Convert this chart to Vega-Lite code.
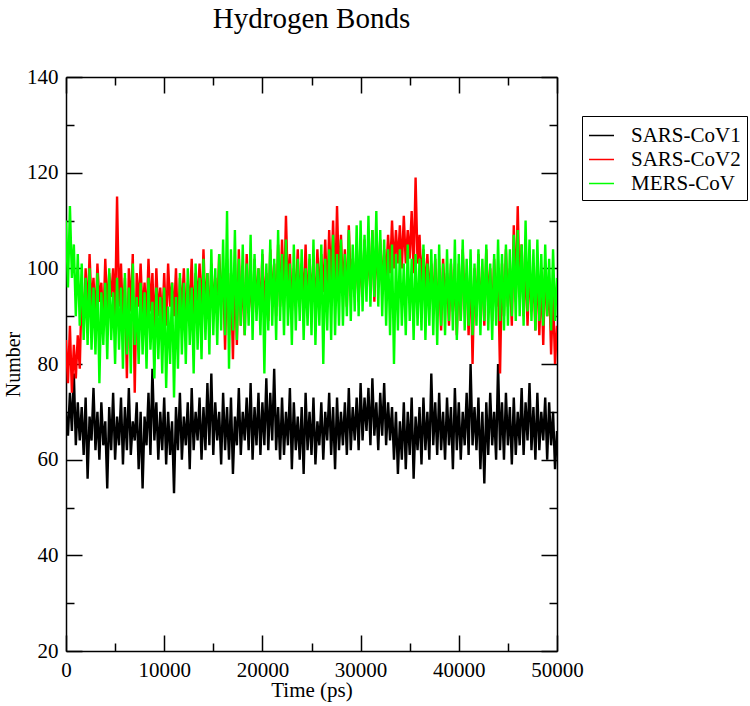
{
"$schema": "https://vega.github.io/schema/vega-lite/v6.json",
"width": 491, "height": 574,
"autosize": {"type": "none"},
"padding": {"left": 66, "top": 77, "right": 193, "bottom": 55},
"background": "white",
"title": {"text": "Hydrogen Bonds", "font": "Liberation Serif", "fontSize": 29, "fontWeight": "normal", "color": "black", "anchor": "middle", "baseline": "alphabetic", "offset": 9},
"data": {"values": [
{"t":0,"SARS-CoV1":70,"SARS-CoV2":85,"MERS-CoV":110},
{"t":200,"SARS-CoV1":65,"SARS-CoV2":76,"MERS-CoV":96},
{"t":400,"SARS-CoV1":74,"SARS-CoV2":88,"MERS-CoV":113},
{"t":600,"SARS-CoV1":66,"SARS-CoV2":74,"MERS-CoV":98},
{"t":800,"SARS-CoV1":78,"SARS-CoV2":84,"MERS-CoV":105},
{"t":1000,"SARS-CoV1":63,"SARS-CoV2":77,"MERS-CoV":90},
{"t":1200,"SARS-CoV1":72,"SARS-CoV2":86,"MERS-CoV":103},
{"t":1400,"SARS-CoV1":64,"SARS-CoV2":79,"MERS-CoV":88},
{"t":1600,"SARS-CoV1":71,"SARS-CoV2":96,"MERS-CoV":101},
{"t":1800,"SARS-CoV1":61,"SARS-CoV2":88,"MERS-CoV":85},
{"t":2000,"SARS-CoV1":73,"SARS-CoV2":100,"MERS-CoV":98},
{"t":2200,"SARS-CoV1":56,"SARS-CoV2":90,"MERS-CoV":84},
{"t":2400,"SARS-CoV1":69,"SARS-CoV2":103,"MERS-CoV":100},
{"t":2600,"SARS-CoV1":64,"SARS-CoV2":92,"MERS-CoV":83},
{"t":2800,"SARS-CoV1":75,"SARS-CoV2":98,"MERS-CoV":96},
{"t":3000,"SARS-CoV1":62,"SARS-CoV2":89,"MERS-CoV":82},
{"t":3200,"SARS-CoV1":70,"SARS-CoV2":101,"MERS-CoV":99},
{"t":3400,"SARS-CoV1":60,"SARS-CoV2":93,"MERS-CoV":76},
{"t":3600,"SARS-CoV1":72,"SARS-CoV2":97,"MERS-CoV":95},
{"t":3800,"SARS-CoV1":63,"SARS-CoV2":88,"MERS-CoV":84},
{"t":4000,"SARS-CoV1":68,"SARS-CoV2":102,"MERS-CoV":97},
{"t":4200,"SARS-CoV1":54,"SARS-CoV2":91,"MERS-CoV":81},
{"t":4400,"SARS-CoV1":71,"SARS-CoV2":99,"MERS-CoV":100},
{"t":4600,"SARS-CoV1":62,"SARS-CoV2":94,"MERS-CoV":85},
{"t":4800,"SARS-CoV1":74,"SARS-CoV2":100,"MERS-CoV":95},
{"t":5000,"SARS-CoV1":60,"SARS-CoV2":90,"MERS-CoV":80},
{"t":5200,"SARS-CoV1":69,"SARS-CoV2":115,"MERS-CoV":98},
{"t":5400,"SARS-CoV1":63,"SARS-CoV2":92,"MERS-CoV":83},
{"t":5600,"SARS-CoV1":73,"SARS-CoV2":101,"MERS-CoV":96},
{"t":5800,"SARS-CoV1":59,"SARS-CoV2":89,"MERS-CoV":79},
{"t":6000,"SARS-CoV1":71,"SARS-CoV2":98,"MERS-CoV":99},
{"t":6200,"SARS-CoV1":62,"SARS-CoV2":77,"MERS-CoV":82},
{"t":6400,"SARS-CoV1":75,"SARS-CoV2":100,"MERS-CoV":96},
{"t":6600,"SARS-CoV1":61,"SARS-CoV2":91,"MERS-CoV":78},
{"t":6800,"SARS-CoV1":68,"SARS-CoV2":103,"MERS-CoV":101},
{"t":7000,"SARS-CoV1":64,"SARS-CoV2":74,"MERS-CoV":84},
{"t":7200,"SARS-CoV1":72,"SARS-CoV2":99,"MERS-CoV":94},
{"t":7400,"SARS-CoV1":58,"SARS-CoV2":92,"MERS-CoV":80},
{"t":7600,"SARS-CoV1":70,"SARS-CoV2":101,"MERS-CoV":97},
{"t":7800,"SARS-CoV1":54,"SARS-CoV2":90,"MERS-CoV":82},
{"t":8000,"SARS-CoV1":69,"SARS-CoV2":97,"MERS-CoV":95},
{"t":8200,"SARS-CoV1":63,"SARS-CoV2":89,"MERS-CoV":79},
{"t":8400,"SARS-CoV1":74,"SARS-CoV2":102,"MERS-CoV":98},
{"t":8600,"SARS-CoV1":61,"SARS-CoV2":91,"MERS-CoV":83},
{"t":8800,"SARS-CoV1":79,"SARS-CoV2":99,"MERS-CoV":93},
{"t":9000,"SARS-CoV1":64,"SARS-CoV2":86,"MERS-CoV":77},
{"t":9200,"SARS-CoV1":72,"SARS-CoV2":100,"MERS-CoV":96},
{"t":9400,"SARS-CoV1":60,"SARS-CoV2":90,"MERS-CoV":81},
{"t":9600,"SARS-CoV1":70,"SARS-CoV2":96,"MERS-CoV":94},
{"t":9800,"SARS-CoV1":62,"SARS-CoV2":88,"MERS-CoV":78},
{"t":10000,"SARS-CoV1":73,"SARS-CoV2":99,"MERS-CoV":96},
{"t":10200,"SARS-CoV1":59,"SARS-CoV2":88,"MERS-CoV":75},
{"t":10400,"SARS-CoV1":70,"SARS-CoV2":101,"MERS-CoV":92},
{"t":10600,"SARS-CoV1":61,"SARS-CoV2":92,"MERS-CoV":80},
{"t":10800,"SARS-CoV1":68,"SARS-CoV2":97,"MERS-CoV":97},
{"t":11000,"SARS-CoV1":53,"SARS-CoV2":90,"MERS-CoV":73},
{"t":11200,"SARS-CoV1":71,"SARS-CoV2":100,"MERS-CoV":94},
{"t":11400,"SARS-CoV1":62,"SARS-CoV2":87,"MERS-CoV":79},
{"t":11600,"SARS-CoV1":74,"SARS-CoV2":98,"MERS-CoV":99},
{"t":11800,"SARS-CoV1":60,"SARS-CoV2":91,"MERS-CoV":82},
{"t":12000,"SARS-CoV1":69,"SARS-CoV2":100,"MERS-CoV":97},
{"t":12200,"SARS-CoV1":63,"SARS-CoV2":89,"MERS-CoV":80},
{"t":12400,"SARS-CoV1":72,"SARS-CoV2":97,"MERS-CoV":100},
{"t":12600,"SARS-CoV1":58,"SARS-CoV2":92,"MERS-CoV":84},
{"t":12800,"SARS-CoV1":75,"SARS-CoV2":102,"MERS-CoV":96},
{"t":13000,"SARS-CoV1":62,"SARS-CoV2":88,"MERS-CoV":78},
{"t":13200,"SARS-CoV1":70,"SARS-CoV2":99,"MERS-CoV":101},
{"t":13400,"SARS-CoV1":64,"SARS-CoV2":93,"MERS-CoV":83},
{"t":13600,"SARS-CoV1":73,"SARS-CoV2":101,"MERS-CoV":98},
{"t":13800,"SARS-CoV1":60,"SARS-CoV2":90,"MERS-CoV":81},
{"t":14000,"SARS-CoV1":71,"SARS-CoV2":104,"MERS-CoV":102},
{"t":14200,"SARS-CoV1":62,"SARS-CoV2":91,"MERS-CoV":85},
{"t":14400,"SARS-CoV1":76,"SARS-CoV2":99,"MERS-CoV":99},
{"t":14600,"SARS-CoV1":63,"SARS-CoV2":88,"MERS-CoV":82},
{"t":14800,"SARS-CoV1":78,"SARS-CoV2":101,"MERS-CoV":104},
{"t":15000,"SARS-CoV1":61,"SARS-CoV2":92,"MERS-CoV":86},
{"t":15200,"SARS-CoV1":72,"SARS-CoV2":98,"MERS-CoV":100},
{"t":15400,"SARS-CoV1":64,"SARS-CoV2":90,"MERS-CoV":84},
{"t":15600,"SARS-CoV1":70,"SARS-CoV2":103,"MERS-CoV":103},
{"t":15800,"SARS-CoV1":59,"SARS-CoV2":93,"MERS-CoV":87},
{"t":16000,"SARS-CoV1":74,"SARS-CoV2":100,"MERS-CoV":106},
{"t":16200,"SARS-CoV1":62,"SARS-CoV2":83,"MERS-CoV":86},
{"t":16400,"SARS-CoV1":71,"SARS-CoV2":102,"MERS-CoV":112},
{"t":16600,"SARS-CoV1":60,"SARS-CoV2":86,"MERS-CoV":79},
{"t":16800,"SARS-CoV1":73,"SARS-CoV2":99,"MERS-CoV":104},
{"t":17000,"SARS-CoV1":57,"SARS-CoV2":81,"MERS-CoV":87},
{"t":17200,"SARS-CoV1":69,"SARS-CoV2":101,"MERS-CoV":108},
{"t":17400,"SARS-CoV1":63,"SARS-CoV2":84,"MERS-CoV":85},
{"t":17600,"SARS-CoV1":75,"SARS-CoV2":104,"MERS-CoV":102},
{"t":17800,"SARS-CoV1":61,"SARS-CoV2":88,"MERS-CoV":88},
{"t":18000,"SARS-CoV1":70,"SARS-CoV2":100,"MERS-CoV":105},
{"t":18200,"SARS-CoV1":64,"SARS-CoV2":86,"MERS-CoV":86},
{"t":18400,"SARS-CoV1":73,"SARS-CoV2":103,"MERS-CoV":101},
{"t":18600,"SARS-CoV1":62,"SARS-CoV2":91,"MERS-CoV":88},
{"t":18800,"SARS-CoV1":76,"SARS-CoV2":98,"MERS-CoV":107},
{"t":19000,"SARS-CoV1":60,"SARS-CoV2":89,"MERS-CoV":85},
{"t":19200,"SARS-CoV1":71,"SARS-CoV2":102,"MERS-CoV":103},
{"t":19400,"SARS-CoV1":63,"SARS-CoV2":92,"MERS-CoV":89},
{"t":19600,"SARS-CoV1":74,"SARS-CoV2":100,"MERS-CoV":100},
{"t":19800,"SARS-CoV1":61,"SARS-CoV2":90,"MERS-CoV":86},
{"t":20000,"SARS-CoV1":72,"SARS-CoV2":103,"MERS-CoV":104},
{"t":20200,"SARS-CoV1":63,"SARS-CoV2":92,"MERS-CoV":78},
{"t":20400,"SARS-CoV1":77,"SARS-CoV2":99,"MERS-CoV":101},
{"t":20600,"SARS-CoV1":62,"SARS-CoV2":89,"MERS-CoV":87},
{"t":20800,"SARS-CoV1":74,"SARS-CoV2":104,"MERS-CoV":106},
{"t":21000,"SARS-CoV1":64,"SARS-CoV2":93,"MERS-CoV":88},
{"t":21200,"SARS-CoV1":79,"SARS-CoV2":101,"MERS-CoV":102},
{"t":21400,"SARS-CoV1":62,"SARS-CoV2":90,"MERS-CoV":85},
{"t":21600,"SARS-CoV1":71,"SARS-CoV2":105,"MERS-CoV":108},
{"t":21800,"SARS-CoV1":60,"SARS-CoV2":92,"MERS-CoV":89},
{"t":22000,"SARS-CoV1":73,"SARS-CoV2":106,"MERS-CoV":103},
{"t":22200,"SARS-CoV1":61,"SARS-CoV2":93,"MERS-CoV":86},
{"t":22400,"SARS-CoV1":70,"SARS-CoV2":111,"MERS-CoV":106},
{"t":22600,"SARS-CoV1":63,"SARS-CoV2":95,"MERS-CoV":88},
{"t":22800,"SARS-CoV1":75,"SARS-CoV2":103,"MERS-CoV":101},
{"t":23000,"SARS-CoV1":58,"SARS-CoV2":91,"MERS-CoV":84},
{"t":23200,"SARS-CoV1":72,"SARS-CoV2":100,"MERS-CoV":105},
{"t":23400,"SARS-CoV1":62,"SARS-CoV2":94,"MERS-CoV":87},
{"t":23600,"SARS-CoV1":69,"SARS-CoV2":104,"MERS-CoV":102},
{"t":23800,"SARS-CoV1":60,"SARS-CoV2":92,"MERS-CoV":89},
{"t":24000,"SARS-CoV1":71,"SARS-CoV2":101,"MERS-CoV":104},
{"t":24200,"SARS-CoV1":57,"SARS-CoV2":93,"MERS-CoV":85},
{"t":24400,"SARS-CoV1":74,"SARS-CoV2":105,"MERS-CoV":100},
{"t":24600,"SARS-CoV1":62,"SARS-CoV2":91,"MERS-CoV":88},
{"t":24800,"SARS-CoV1":70,"SARS-CoV2":102,"MERS-CoV":103},
{"t":25000,"SARS-CoV1":61,"SARS-CoV2":95,"MERS-CoV":86},
{"t":25200,"SARS-CoV1":73,"SARS-CoV2":100,"MERS-CoV":106},
{"t":25400,"SARS-CoV1":59,"SARS-CoV2":92,"MERS-CoV":84},
{"t":25600,"SARS-CoV1":68,"SARS-CoV2":104,"MERS-CoV":101},
{"t":25800,"SARS-CoV1":63,"SARS-CoV2":94,"MERS-CoV":88},
{"t":26000,"SARS-CoV1":72,"SARS-CoV2":103,"MERS-CoV":105},
{"t":26200,"SARS-CoV1":60,"SARS-CoV2":95,"MERS-CoV":80},
{"t":26400,"SARS-CoV1":70,"SARS-CoV2":106,"MERS-CoV":102},
{"t":26600,"SARS-CoV1":64,"SARS-CoV2":93,"MERS-CoV":87},
{"t":26800,"SARS-CoV1":74,"SARS-CoV2":108,"MERS-CoV":104},
{"t":27000,"SARS-CoV1":61,"SARS-CoV2":96,"MERS-CoV":85},
{"t":27200,"SARS-CoV1":71,"SARS-CoV2":110,"MERS-CoV":107},
{"t":27400,"SARS-CoV1":58,"SARS-CoV2":94,"MERS-CoV":86},
{"t":27600,"SARS-CoV1":73,"SARS-CoV2":113,"MERS-CoV":103},
{"t":27800,"SARS-CoV1":62,"SARS-CoV2":97,"MERS-CoV":88},
{"t":28000,"SARS-CoV1":70,"SARS-CoV2":107,"MERS-CoV":106},
{"t":28200,"SARS-CoV1":63,"SARS-CoV2":95,"MERS-CoV":88},
{"t":28400,"SARS-CoV1":72,"SARS-CoV2":104,"MERS-CoV":103},
{"t":28600,"SARS-CoV1":61,"SARS-CoV2":92,"MERS-CoV":90},
{"t":28800,"SARS-CoV1":75,"SARS-CoV2":109,"MERS-CoV":108},
{"t":29000,"SARS-CoV1":62,"SARS-CoV2":96,"MERS-CoV":89},
{"t":29200,"SARS-CoV1":71,"SARS-CoV2":102,"MERS-CoV":105},
{"t":29400,"SARS-CoV1":64,"SARS-CoV2":94,"MERS-CoV":91},
{"t":29600,"SARS-CoV1":73,"SARS-CoV2":105,"MERS-CoV":109},
{"t":29800,"SARS-CoV1":62,"SARS-CoV2":93,"MERS-CoV":90},
{"t":30000,"SARS-CoV1":76,"SARS-CoV2":103,"MERS-CoV":110},
{"t":30200,"SARS-CoV1":64,"SARS-CoV2":94,"MERS-CoV":91},
{"t":30400,"SARS-CoV1":73,"SARS-CoV2":106,"MERS-CoV":107},
{"t":30600,"SARS-CoV1":66,"SARS-CoV2":96,"MERS-CoV":93},
{"t":30800,"SARS-CoV1":75,"SARS-CoV2":104,"MERS-CoV":111},
{"t":31000,"SARS-CoV1":63,"SARS-CoV2":95,"MERS-CoV":92},
{"t":31200,"SARS-CoV1":77,"SARS-CoV2":108,"MERS-CoV":108},
{"t":31400,"SARS-CoV1":65,"SARS-CoV2":93,"MERS-CoV":94},
{"t":31600,"SARS-CoV1":72,"SARS-CoV2":105,"MERS-CoV":112},
{"t":31800,"SARS-CoV1":62,"SARS-CoV2":97,"MERS-CoV":92},
{"t":32000,"SARS-CoV1":74,"SARS-CoV2":106,"MERS-CoV":108},
{"t":32200,"SARS-CoV1":65,"SARS-CoV2":96,"MERS-CoV":90},
{"t":32400,"SARS-CoV1":76,"SARS-CoV2":104,"MERS-CoV":106},
{"t":32600,"SARS-CoV1":63,"SARS-CoV2":98,"MERS-CoV":88},
{"t":32800,"SARS-CoV1":72,"SARS-CoV2":107,"MERS-CoV":104},
{"t":33000,"SARS-CoV1":64,"SARS-CoV2":99,"MERS-CoV":86},
{"t":33200,"SARS-CoV1":71,"SARS-CoV2":110,"MERS-CoV":105},
{"t":33400,"SARS-CoV1":60,"SARS-CoV2":100,"MERS-CoV":80},
{"t":33600,"SARS-CoV1":70,"SARS-CoV2":108,"MERS-CoV":103},
{"t":33800,"SARS-CoV1":57,"SARS-CoV2":101,"MERS-CoV":87},
{"t":34000,"SARS-CoV1":68,"SARS-CoV2":109,"MERS-CoV":104},
{"t":34200,"SARS-CoV1":60,"SARS-CoV2":100,"MERS-CoV":88},
{"t":34400,"SARS-CoV1":72,"SARS-CoV2":111,"MERS-CoV":101},
{"t":34600,"SARS-CoV1":58,"SARS-CoV2":101,"MERS-CoV":86},
{"t":34800,"SARS-CoV1":70,"SARS-CoV2":108,"MERS-CoV":105},
{"t":35000,"SARS-CoV1":61,"SARS-CoV2":102,"MERS-CoV":89},
{"t":35200,"SARS-CoV1":73,"SARS-CoV2":112,"MERS-CoV":102},
{"t":35400,"SARS-CoV1":56,"SARS-CoV2":99,"MERS-CoV":85},
{"t":35600,"SARS-CoV1":69,"SARS-CoV2":119,"MERS-CoV":103},
{"t":35800,"SARS-CoV1":62,"SARS-CoV2":101,"MERS-CoV":88},
{"t":36000,"SARS-CoV1":71,"SARS-CoV2":107,"MERS-CoV":102},
{"t":36200,"SARS-CoV1":59,"SARS-CoV2":97,"MERS-CoV":87},
{"t":36400,"SARS-CoV1":73,"SARS-CoV2":104,"MERS-CoV":105},
{"t":36600,"SARS-CoV1":62,"SARS-CoV2":95,"MERS-CoV":85},
{"t":36800,"SARS-CoV1":70,"SARS-CoV2":103,"MERS-CoV":101},
{"t":37000,"SARS-CoV1":60,"SARS-CoV2":94,"MERS-CoV":88},
{"t":37200,"SARS-CoV1":78,"SARS-CoV2":101,"MERS-CoV":104},
{"t":37400,"SARS-CoV1":63,"SARS-CoV2":92,"MERS-CoV":86},
{"t":37600,"SARS-CoV1":72,"SARS-CoV2":102,"MERS-CoV":103},
{"t":37800,"SARS-CoV1":61,"SARS-CoV2":90,"MERS-CoV":84},
{"t":38000,"SARS-CoV1":74,"SARS-CoV2":100,"MERS-CoV":105},
{"t":38200,"SARS-CoV1":62,"SARS-CoV2":87,"MERS-CoV":88},
{"t":38400,"SARS-CoV1":70,"SARS-CoV2":102,"MERS-CoV":101},
{"t":38600,"SARS-CoV1":60,"SARS-CoV2":93,"MERS-CoV":86},
{"t":38800,"SARS-CoV1":73,"SARS-CoV2":99,"MERS-CoV":104},
{"t":39000,"SARS-CoV1":63,"SARS-CoV2":88,"MERS-CoV":89},
{"t":39200,"SARS-CoV1":71,"SARS-CoV2":101,"MERS-CoV":102},
{"t":39400,"SARS-CoV1":58,"SARS-CoV2":91,"MERS-CoV":87},
{"t":39600,"SARS-CoV1":75,"SARS-CoV2":98,"MERS-CoV":106},
{"t":39800,"SARS-CoV1":62,"SARS-CoV2":86,"MERS-CoV":85},
{"t":40000,"SARS-CoV1":72,"SARS-CoV2":101,"MERS-CoV":103},
{"t":40200,"SARS-CoV1":60,"SARS-CoV2":89,"MERS-CoV":89},
{"t":40400,"SARS-CoV1":70,"SARS-CoV2":104,"MERS-CoV":106},
{"t":40600,"SARS-CoV1":63,"SARS-CoV2":92,"MERS-CoV":87},
{"t":40800,"SARS-CoV1":74,"SARS-CoV2":99,"MERS-CoV":102},
{"t":41000,"SARS-CoV1":61,"SARS-CoV2":86,"MERS-CoV":88},
{"t":41200,"SARS-CoV1":80,"SARS-CoV2":102,"MERS-CoV":104},
{"t":41400,"SARS-CoV1":63,"SARS-CoV2":80,"MERS-CoV":86},
{"t":41600,"SARS-CoV1":71,"SARS-CoV2":100,"MERS-CoV":101},
{"t":41800,"SARS-CoV1":62,"SARS-CoV2":90,"MERS-CoV":88},
{"t":42000,"SARS-CoV1":73,"SARS-CoV2":103,"MERS-CoV":104},
{"t":42200,"SARS-CoV1":58,"SARS-CoV2":91,"MERS-CoV":86},
{"t":42400,"SARS-CoV1":70,"SARS-CoV2":99,"MERS-CoV":102},
{"t":42600,"SARS-CoV1":55,"SARS-CoV2":88,"MERS-CoV":89},
{"t":42800,"SARS-CoV1":72,"SARS-CoV2":104,"MERS-CoV":105},
{"t":43000,"SARS-CoV1":61,"SARS-CoV2":93,"MERS-CoV":87},
{"t":43200,"SARS-CoV1":74,"SARS-CoV2":100,"MERS-CoV":101},
{"t":43400,"SARS-CoV1":63,"SARS-CoV2":89,"MERS-CoV":85},
{"t":43600,"SARS-CoV1":70,"SARS-CoV2":102,"MERS-CoV":103},
{"t":43800,"SARS-CoV1":60,"SARS-CoV2":92,"MERS-CoV":88},
{"t":44000,"SARS-CoV1":80,"SARS-CoV2":99,"MERS-CoV":106},
{"t":44200,"SARS-CoV1":62,"SARS-CoV2":78,"MERS-CoV":89},
{"t":44400,"SARS-CoV1":72,"SARS-CoV2":101,"MERS-CoV":103},
{"t":44600,"SARS-CoV1":60,"SARS-CoV2":90,"MERS-CoV":87},
{"t":44800,"SARS-CoV1":74,"SARS-CoV2":104,"MERS-CoV":105},
{"t":45000,"SARS-CoV1":63,"SARS-CoV2":92,"MERS-CoV":88},
{"t":45200,"SARS-CoV1":71,"SARS-CoV2":100,"MERS-CoV":104},
{"t":45400,"SARS-CoV1":59,"SARS-CoV2":88,"MERS-CoV":90},
{"t":45600,"SARS-CoV1":73,"SARS-CoV2":109,"MERS-CoV":107},
{"t":45800,"SARS-CoV1":61,"SARS-CoV2":93,"MERS-CoV":89},
{"t":46000,"SARS-CoV1":70,"SARS-CoV2":113,"MERS-CoV":108},
{"t":46200,"SARS-CoV1":63,"SARS-CoV2":94,"MERS-CoV":90},
{"t":46400,"SARS-CoV1":75,"SARS-CoV2":105,"MERS-CoV":105},
{"t":46600,"SARS-CoV1":61,"SARS-CoV2":90,"MERS-CoV":88},
{"t":46800,"SARS-CoV1":72,"SARS-CoV2":102,"MERS-CoV":110},
{"t":47000,"SARS-CoV1":64,"SARS-CoV2":88,"MERS-CoV":91},
{"t":47200,"SARS-CoV1":76,"SARS-CoV2":101,"MERS-CoV":106},
{"t":47400,"SARS-CoV1":62,"SARS-CoV2":91,"MERS-CoV":89},
{"t":47600,"SARS-CoV1":71,"SARS-CoV2":99,"MERS-CoV":104},
{"t":47800,"SARS-CoV1":60,"SARS-CoV2":87,"MERS-CoV":87},
{"t":48000,"SARS-CoV1":74,"SARS-CoV2":102,"MERS-CoV":106},
{"t":48200,"SARS-CoV1":62,"SARS-CoV2":86,"MERS-CoV":89},
{"t":48400,"SARS-CoV1":70,"SARS-CoV2":99,"MERS-CoV":103},
{"t":48600,"SARS-CoV1":64,"SARS-CoV2":84,"MERS-CoV":88},
{"t":48800,"SARS-CoV1":73,"SARS-CoV2":101,"MERS-CoV":105},
{"t":49000,"SARS-CoV1":60,"SARS-CoV2":90,"MERS-CoV":90},
{"t":49200,"SARS-CoV1":72,"SARS-CoV2":98,"MERS-CoV":102},
{"t":49400,"SARS-CoV1":63,"SARS-CoV2":82,"MERS-CoV":87},
{"t":49600,"SARS-CoV1":70,"SARS-CoV2":95,"MERS-CoV":104},
{"t":49800,"SARS-CoV1":58,"SARS-CoV2":80,"MERS-CoV":89},
{"t":50000,"SARS-CoV1":66,"SARS-CoV2":88,"MERS-CoV":98}
]},
"transform": [{"fold": ["SARS-CoV1", "SARS-CoV2", "MERS-CoV"], "as": ["series", "value"]}],
"layer": [
{
"transform": [{"filter": "datum.series === 'SARS-CoV1'"}],
"mark": {"type": "line", "strokeWidth": 2.4, "clip": true},
"encoding": {
"x": {"field": "t", "type": "quantitative", "scale": {"domain": [0, 50000], "nice": false, "zero": false},
"axis": {"orient": "bottom", "title": "Time (ps)", "values": [0,5000,10000,15000,20000,25000,30000,35000,40000,45000,50000], "format": "d", "labelExpr": "datum.value % 10000 === 0 ? datum.label : ''", "tickSize": {"condition": {"test": "datum.value % 10000 === 0", "value": -16}, "value": -8}, "labelPadding": 24, "titlePadding": -9}},
"y": {"field": "value", "type": "quantitative", "scale": {"domain": [20, 140], "nice": false, "zero": false},
"axis": {"orient": "left", "title": "Number", "titleFontSize": 20, "values": [20,30,40,50,60,70,80,90,100,110,120,130,140], "labelExpr": "datum.value % 20 === 0 ? datum.label : ''", "tickSize": {"condition": {"test": "datum.value % 20 === 0", "value": -16}, "value": -8}, "labelPadding": 24, "titlePadding": 3}},
"color": {"field": "series", "type": "nominal", "scale": {"domain": ["SARS-CoV1", "SARS-CoV2", "MERS-CoV"], "range": ["#000000", "#ff0000", "#00ff00"]},
"legend": {"orient": "none", "legendX": 516, "legendY": 39, "title": null, "symbolType": "stroke", "symbolSize": 625, "symbolStrokeWidth": 1.5, "labelFont": "Liberation Serif", "labelFontSize": 21, "labelColor": "black", "strokeColor": "black", "fillColor": "white", "padding": 6, "rowPadding": -4, "labelOffset": 16}}
}
},
{
"transform": [{"filter": "datum.series === 'SARS-CoV2'"}],
"mark": {"type": "line", "strokeWidth": 2.4, "color": "#ff0000", "clip": true},
"encoding": {
"x": {"field": "t", "type": "quantitative",
"axis": {"orient": "top", "title": null, "labels": false, "values": [0,5000,10000,15000,20000,25000,30000,35000,40000,45000,50000], "tickSize": {"condition": {"test": "datum.value % 10000 === 0", "value": -16}, "value": -8}}},
"y": {"field": "value", "type": "quantitative",
"axis": {"orient": "right", "title": null, "labels": false, "values": [20,30,40,50,60,70,80,90,100,110,120,130,140], "tickSize": {"condition": {"test": "datum.value % 20 === 0", "value": -16}, "value": -8}}}
}
},
{
"transform": [{"filter": "datum.series === 'MERS-CoV'"}],
"mark": {"type": "line", "strokeWidth": 2.4, "color": "#00ff00", "clip": true},
"encoding": {
"x": {"field": "t", "type": "quantitative", "axis": null},
"y": {"field": "value", "type": "quantitative", "axis": null}
}
}
],
"config": {
"view": {"stroke": null},
"axis": {"grid": false, "domainColor": "black", "domainWidth": 1.5, "tickColor": "black", "tickWidth": 1.5, "labelFont": "Liberation Serif", "labelFontSize": 21, "labelColor": "black", "titleFont": "Liberation Serif", "titleFontSize": 21, "titleFontWeight": "normal", "titleColor": "black", "labelOverlap": false, "labelFlush": false}
}
}
